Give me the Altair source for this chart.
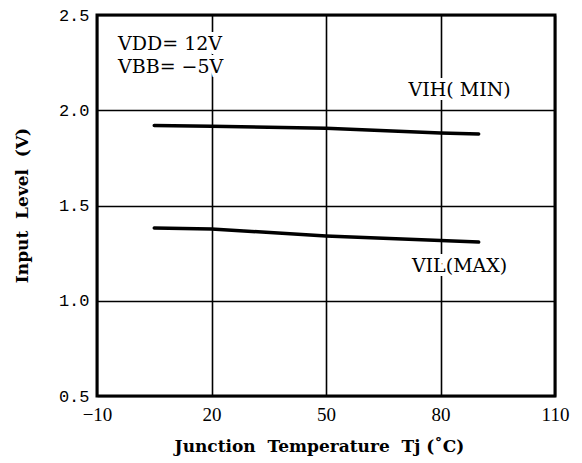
import altair as alt
import pandas as pd

# Data
vih_temp = [5, 20, 50, 80, 90]
vih_level = [1.92, 1.916, 1.905, 1.88, 1.875]
vil_temp = [5, 20, 50, 80, 90]
vil_level = [1.382, 1.377, 1.34, 1.316, 1.308]

x_ticks = [-10, 20, 50, 80, 110]
y_ticks = [0.5, 1.0, 1.5, 2.0, 2.5]

note_text = ["VDD= 12V", "VBB= \u22125V"]
note_temp = [-4.5, -4.5]
note_level = [2.35, 2.226]

curve_label_text = ["VIH( MIN)", "VIL(MAX)"]
curve_label_temp = [85, 85]
curve_label_level = [2.105, 1.184]

x_title = "Junction\u00a0\u00a0Temperature\u00a0\u00a0Tj\u00a0(\u02daC)"
y_title = "Input\u00a0\u00a0Level\u00a0\u00a0(V)"

df = pd.DataFrame(
    {"temp": vih_temp + vil_temp,
     "level": vih_level + vil_level,
     "series": ["VIH(MIN)"] * len(vih_temp) + ["VIL(MAX)"] * len(vil_temp)}
)
notes = pd.DataFrame({"text": note_text, "temp": note_temp, "level": note_level})
labels = pd.DataFrame({"text": curve_label_text, "temp": curve_label_temp,
                       "level": curve_label_level})

SERIF = "Liberation Serif"
WIDE = "DejaVu Serif"

xscale = alt.Scale(domain=[-10, 110], nice=False, zero=False)
yscale = alt.Scale(domain=[0.5, 2.5], nice=False, zero=False)

xaxis = alt.Axis(values=x_ticks, grid=True, gridColor="black", gridWidth=1.6,
                 gridOpacity=1, ticks=False, domain=False,
                 labelExpr="replace(datum.label, '-', '\u2212')",
                 labelFont=SERIF, labelFontSize=19, labelColor="black",
                 labelPadding=9, labelFlush=False,
                 title=x_title,
                 titleFont=WIDE, titleFontSize=17, titleFontWeight="bold",
                 titleColor="black", titleX=222, titleY=50, titleBaseline="middle")
yaxis = alt.Axis(values=y_ticks, grid=True, gridColor="black", gridWidth=1.6,
                 gridOpacity=1, ticks=False, domain=False, format=".1f",
                 labelFont="Liberation Mono", labelFontSize=17, labelColor="black",
                 labelPadding=8, labelFlush=False,
                 title=y_title,
                 titleFont=WIDE, titleFontSize=17, titleFontWeight="bold",
                 titleColor="black", titleX=-75, titleY=190, titleBaseline="middle")

lines = alt.Chart(df).mark_line(color="black", strokeWidth=3.5, strokeCap="round").encode(
    x=alt.X("temp:Q", scale=xscale, axis=xaxis),
    y=alt.Y("level:Q", scale=yscale, axis=yaxis),
    detail="series:N",
)

def halo_text(data, align):
    base = alt.Chart(data).encode(
        x=alt.X("temp:Q", scale=xscale),
        y=alt.Y("level:Q", scale=yscale),
        text="text:N",
    )
    halo = base.mark_text(font=WIDE, fontSize=19, align=align, baseline="middle",
                          color="white", stroke="white", strokeWidth=8)
    txt = base.mark_text(font=WIDE, fontSize=19, align=align, baseline="middle",
                         color="black")
    return halo + txt

chart = alt.layer(
    lines,
    halo_text(notes, "left"),
    halo_text(labels, "center"),
).properties(
    width=458, height=381,
    autosize=alt.AutoSizeParams(type="none"),
    padding={"left": 89, "top": 7, "right": 18, "bottom": 60},
).configure_view(stroke="black", strokeWidth=3)

chart.save("out.html", embed_options={"renderer": "svg", "actions": False})
